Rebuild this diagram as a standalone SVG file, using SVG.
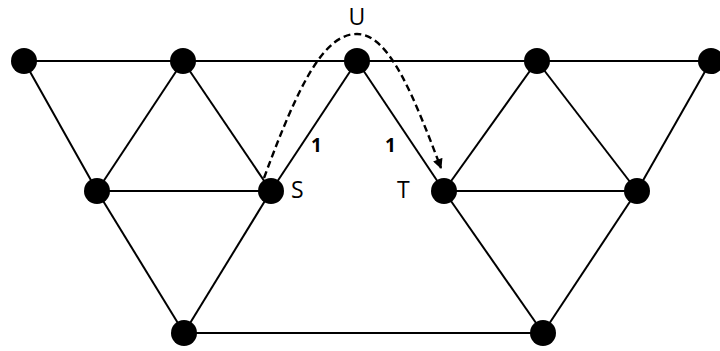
<svg xmlns="http://www.w3.org/2000/svg" width="720" height="351" viewBox="0 0 720 351">
<style>
.e{stroke:#000;stroke-width:2;fill:none}
.n{fill:#000}
.lbl{font-family:"Open Sans","Liberation Sans",sans-serif;font-size:23px;fill:#000}
.w{font-family:"Open Sans","Liberation Sans",sans-serif;font-size:19px;font-weight:bold;fill:#000}
.d{stroke:#000;stroke-width:2.4;fill:none;stroke-dasharray:7 4}
</style>
<defs>
<marker id="ah" viewBox="0 0 10 10" refX="9" refY="5" markerWidth="11" markerHeight="10" orient="auto" markerUnits="userSpaceOnUse">
<path d="M0,0 L10,5 L0,10 z" fill="#000"/>
</marker>
</defs>
<rect width="720" height="351" fill="#fff"/>
<g id="connectors">
<line class="e" x1="24" y1="61" x2="711" y2="61"/>
<line class="e" x1="24" y1="61" x2="97" y2="191"/>
<line class="e" x1="183" y1="61" x2="97" y2="191"/>
<line class="e" x1="183" y1="61" x2="271" y2="191"/>
<line class="e" x1="97" y1="191" x2="271" y2="191"/>
<line class="e" x1="357" y1="61" x2="271" y2="191"/>
<line class="e" x1="357" y1="61" x2="444" y2="191"/>
<line class="e" x1="537" y1="61" x2="444" y2="191"/>
<line class="e" x1="537" y1="61" x2="637" y2="191"/>
<line class="e" x1="711" y1="61" x2="637" y2="191"/>
<line class="e" x1="444" y1="191" x2="637" y2="191"/>
<line class="e" x1="97" y1="191" x2="184" y2="333"/>
<line class="e" x1="271" y1="191" x2="184" y2="333"/>
<line class="e" x1="184" y1="333" x2="543" y2="333"/>
<line class="e" x1="444" y1="191" x2="543" y2="333"/>
<line class="e" x1="637" y1="191" x2="543" y2="333"/>
<path class="d" d="M264,178 C300,80 325,34 357,34 C390,34 415,100 441,168" marker-end="url(#ah)"/>
</g>
<g id="nA"><circle class="n" cx="24" cy="61" r="13"/></g>
<g id="nB"><circle class="n" cx="183" cy="61" r="13"/></g>
<g id="nU"><circle class="n" cx="357" cy="61" r="13"/><text class="lbl" x="357" y="25" text-anchor="middle">U</text></g>
<g id="nC"><circle class="n" cx="537" cy="61" r="13"/></g>
<g id="nD"><circle class="n" cx="711" cy="61" r="13"/></g>
<g id="nM1"><circle class="n" cx="97" cy="191" r="13"/></g>
<g id="nS"><circle class="n" cx="271" cy="191" r="13"/><text class="lbl" x="291" y="198">S</text></g>
<g id="nT"><circle class="n" cx="444" cy="191" r="13"/><text class="lbl" x="397" y="198">T</text></g>
<g id="nM4"><circle class="n" cx="637" cy="191" r="13"/></g>
<g id="nB1"><circle class="n" cx="184" cy="333" r="13"/></g>
<g id="nB2"><circle class="n" cx="543" cy="333" r="13"/></g>
<g id="weights">
<text class="w" x="311" y="152">1</text>
<text class="w" x="385" y="152">1</text>
</g>
</svg>
